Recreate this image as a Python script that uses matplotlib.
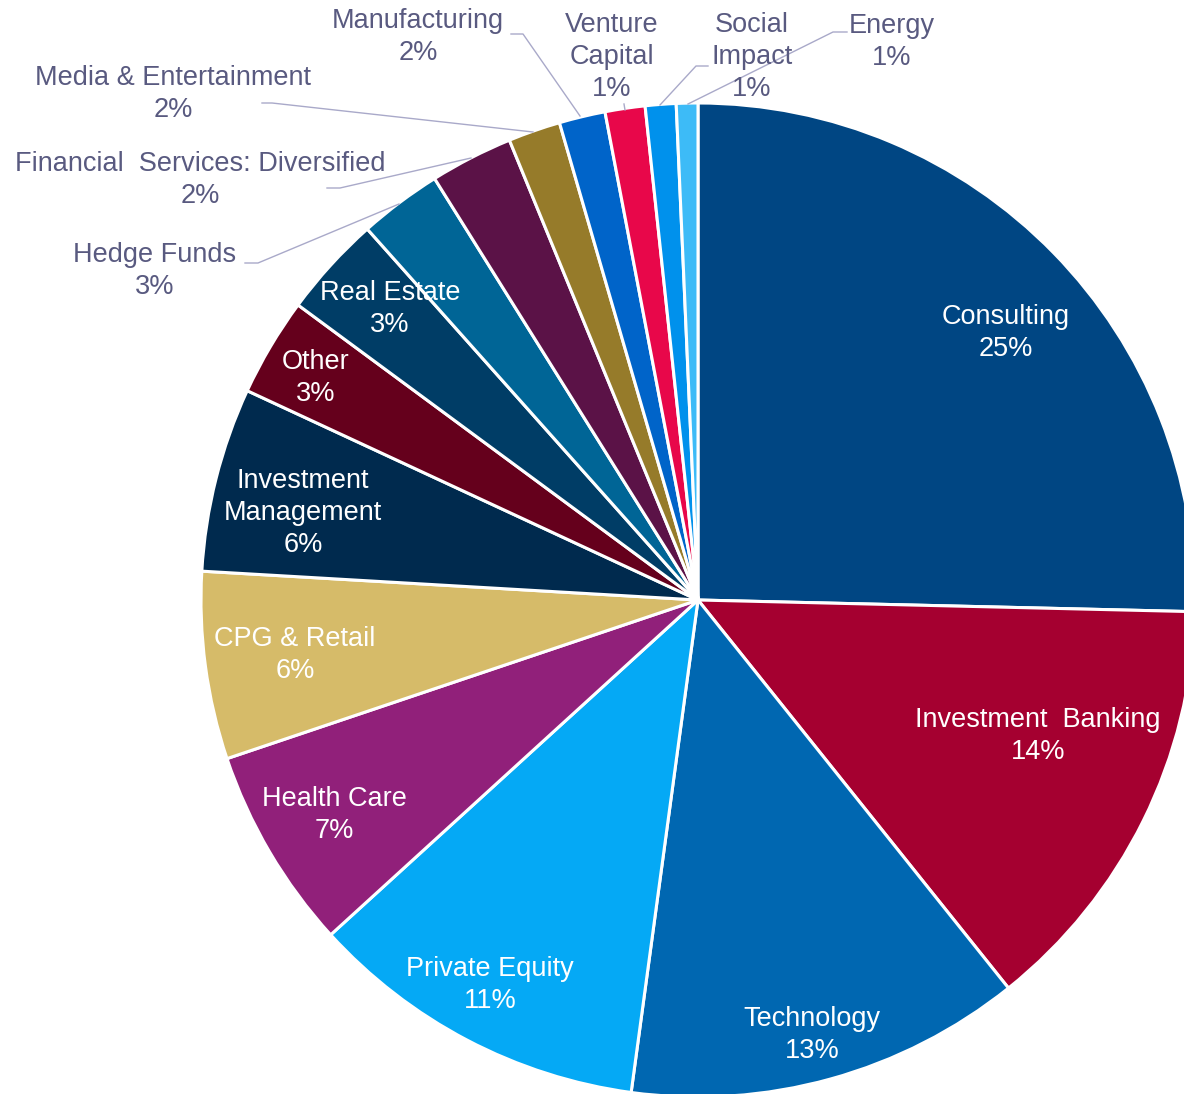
import matplotlib.pyplot as plt

plt.rcParams['font.family'] = ['Liberation Sans', 'DejaVu Sans']

# share by industry (percent), clockwise from 12 o'clock
industries = ["Consulting", "Investment  Banking", "Technology", "Private Equity",
              "Health Care", "CPG & Retail", "Investment\nManagement", "Other",
              "Real Estate", "Hedge Funds", "Financial  Services: Diversified",
              "Media & Entertainment", "Manufacturing", "Venture\nCapital",
              "Social\nImpact", "Energy"]
shares = [25.4, 13.9, 12.9, 11.1, 6.6, 6.1, 6.0, 3.2, 3.3, 2.7, 2.7, 1.7, 1.5, 1.3, 1.0, 0.7]
pct_labels = ["25%", "14%", "13%", "11%", "7%", "6%", "6%", "3%", "3%", "3%",
              "2%", "2%", "2%", "1%", "1%", "1%"]

colors = ["#004683", "#a50030", "#0067b1", "#05a9f5", "#91207a", "#d6bb69",
          "#002a4e", "#65001c", "#003d66", "#006596", "#5b1247", "#967b2a",
          "#0064c9", "#e8074a", "#0091ec", "#3dbbf7"]

# layout: label centres in pixels (x, y from top), True = white label inside wedge
label_pos = [(1006, 333, True), (1038, 736, True), (812, 1035, True), (490, 985, True),
             (334, 815, True), (295, 655, True), (303, 513, True), (316, 378, True),
             (390, 309, True), (155, 271, False), (200, 180, False), (173, 94, False),
             (418, 37, False), (612, 57, False), (752, 57, False), (892, 42, False)]
# leader lines in pixels
leaders = {
    "Hedge Funds": [(245, 263), (258, 263), (399, 204)],
    "Financial": [(327, 188), (340, 188), (471, 158)],
    "Media": [(262, 103), (272, 103), (533, 132)],
    "Manufacturing": [(511, 34), (523, 34), (580, 116)],
    "Venture": [(624, 104), (625, 110)],
    "Social": [(708, 66), (696, 66), (660, 105)],
    "Energy": [(847, 32), (833, 32), (688, 104)],
}

W, H = 1184, 1094
fig = plt.figure(figsize=(W / 100, H / 100), dpi=100)
ax = fig.add_axes([0, 0, 1, 1])

ax.pie(shares, colors=colors, startangle=90, counterclock=False,
       center=(698, H - 600), radius=497,
       wedgeprops=dict(edgecolor="white", linewidth=2.2))

text_col = "#595a80"
for name, pct, (x, y, inside) in zip(industries, pct_labels, label_pos):
    ax.text(x, H - y, name + "\n" + pct, ha="center", va="center",
            multialignment="center", fontsize=19.5, linespacing=1.3,
            color="white" if inside else text_col)

for pts in leaders.values():
    xs = [p[0] for p in pts]
    ys = [H - p[1] for p in pts]
    ax.plot(xs, ys, color="#a9a9c9", linewidth=1.0)

ax.set_xlim(0, W)
ax.set_ylim(0, H)
ax.set_aspect("equal")
ax.axis("off")

fig.savefig("out.png", dpi=100, facecolor="white")
